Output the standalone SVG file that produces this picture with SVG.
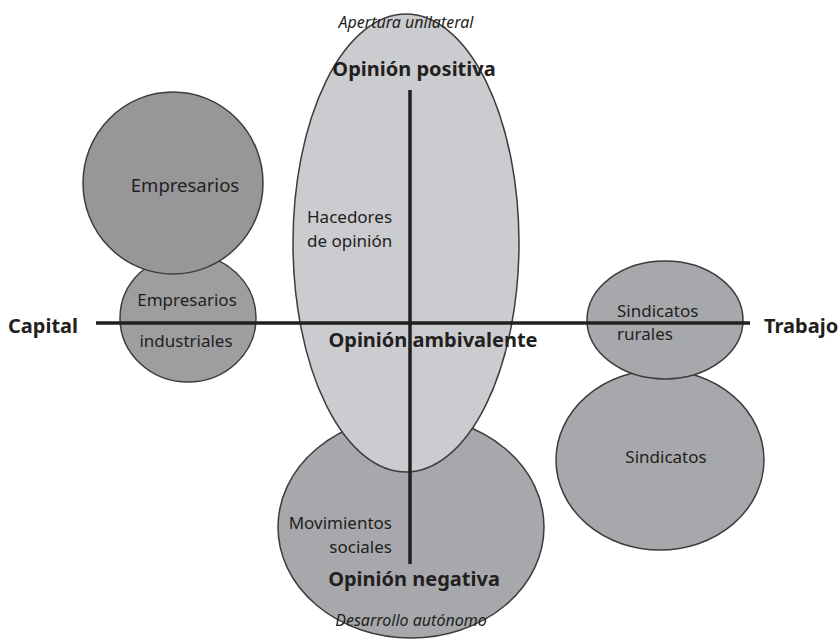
<svg xmlns="http://www.w3.org/2000/svg" width="839" height="639" viewBox="0 0 839 639">
<style>
.dark{fill:#a7a8ab;stroke:#3c3c3c;stroke-width:1.5}
.darker{fill:#97979a;stroke:#3c3c3c;stroke-width:1.5}
.mid{fill:#9e9ea1;stroke:#3c3c3c;stroke-width:1.5}
.light{fill:#cbcccf;stroke:#3c3c3c;stroke-width:1.5}
text{font-family:"Noto Sans","Open Sans",sans-serif;fill:#231f20}
.lbl{font-size:17px}
.b{font-size:20px;font-weight:bold}
.i{font-size:16px;font-style:italic}
.axis{stroke:#231f20;stroke-width:3.5;fill:none}
</style>
<rect width="839" height="639" fill="#ffffff"/>
<g id="movimientos">
<ellipse class="dark" cx="411" cy="527" rx="133" ry="111"/>
</g>
<g id="hacedores">
<ellipse class="light" cx="406" cy="243" rx="113" ry="229"/>
</g>
<g id="industriales">
<ellipse class="mid" cx="188" cy="318" rx="68" ry="64"/>
</g>
<g id="empresarios">
<ellipse class="darker" cx="173" cy="183" rx="90" ry="91"/>
<text class="lbl" x="185" y="192" text-anchor="middle" style="font-size:18.5px">Empresarios</text>
</g>
<g id="sindicatos">
<ellipse class="dark" cx="660" cy="460" rx="104" ry="90"/>
<text class="lbl" x="666" y="463" text-anchor="middle">Sindicatos</text>
</g>
<g id="rurales">
<ellipse class="dark" cx="665" cy="320" rx="78" ry="59"/>
</g>
<g id="connectors">
<line class="axis" x1="96" y1="323" x2="750" y2="323"/>
<line class="axis" x1="410" y1="90" x2="410" y2="564"/>
</g>
<g id="labels">
<text class="lbl" x="307" y="223">Hacedores</text>
<text class="lbl" x="307" y="247">de opinión</text>
<text class="lbl" x="187" y="306" text-anchor="middle">Empresarios</text>
<text class="lbl" x="186" y="347" text-anchor="middle">industriales</text>
<text class="lbl" x="617" y="317">Sindicatos</text>
<text class="lbl" x="617" y="340">rurales</text>
<text class="lbl" x="392" y="529" text-anchor="end">Movimientos</text>
<text class="lbl" x="392" y="553" text-anchor="end">sociales</text>
<text class="i" x="406" y="28" text-anchor="middle">Apertura unilateral</text>
<text class="b" x="414" y="76" text-anchor="middle">Opinión positiva</text>
<text class="b" x="433" y="347" text-anchor="middle">Opinión ambivalente</text>
<text class="b" x="414" y="586" text-anchor="middle">Opinión negativa</text>
<text class="i" x="411" y="626" text-anchor="middle">Desarrollo autónomo</text>
<text class="b" x="8" y="333">Capital</text>
<text class="b" x="764" y="333">Trabajo</text>
</g>
</svg>
